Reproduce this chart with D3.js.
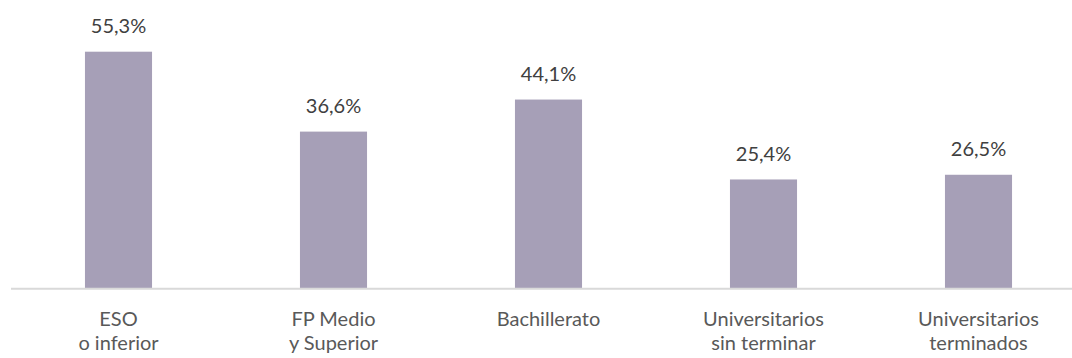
<!DOCTYPE html>
<head>
  <meta charset="utf-8">
  <script src="https://d3js.org/d3.v7.min.js"></script>
  <style>
    body { margin:0; background:#fff; }
    svg { display:block; overflow:hidden; }
    text { font-family: Lato, "Open Sans", sans-serif; font-size:20px; }
  </style>
</head>

<body>
<script>
  // data
  var categories = [
    ["ESO", "o inferior"],
    ["FP Medio", "y Superior"],
    ["Bachillerato"],
    ["Universitarios", "sin terminar"],
    ["Universitarios", "terminados"]
  ];
  var values = [55.3, 36.6, 44.1, 25.4, 26.5];
  var valueLabels = ["55,3%", "36,6%", "44,1%", "25,4%", "26,5%"];

  var width = 1072, height = 358;
  var baseline = 288;

  var svg = d3.select("body").append("svg")
    .attr("width", width)
    .attr("height", height);

  var x = d3.scaleBand()
    .domain(d3.range(values.length))
    .range([11, 1086])
    .paddingInner(0.688)
    .paddingOuter(0.344);

  // 55.3 -> top at ~51.7
  var y = d3.scaleLinear().domain([0, 55.3]).range([baseline, 51.7]);

  svg.selectAll("rect.bar")
    .data(values)
    .enter().append("rect")
    .attr("class", "bar")
    .attr("x", function(d, i) { return x(i); })
    .attr("width", x.bandwidth())
    .attr("y", function(d) { return y(d); })
    .attr("height", function(d) { return baseline - y(d); })
    .attr("fill", "#a69fb7");

  // axis line
  svg.append("line")
    .attr("x1", 11).attr("x2", 1086)
    .attr("y1", baseline + 0.8).attr("y2", baseline + 0.8)
    .attr("stroke", "#d9d9d9")
    .attr("stroke-width", 2);

  // value labels
  svg.selectAll("text.val")
    .data(values)
    .enter().append("text")
    .attr("class", "val")
    .attr("x", function(d, i) { return x(i) + x.bandwidth() / 2; })
    .attr("y", function(d) { return y(d) - 18.5; })
    .attr("text-anchor", "middle")
    .attr("fill", "#404040")
    .text(function(d, i) { return valueLabels[i]; });

  // category labels
  var cat = svg.selectAll("text.cat")
    .data(categories)
    .enter().append("text")
    .attr("class", "cat")
    .attr("text-anchor", "middle")
    .attr("fill", "#595959")
    .attr("transform", function(d, i) {
      return "translate(" + (x(i) + x.bandwidth() / 2) + ",326)";
    });
  cat.selectAll("tspan")
    .data(function(d) { return d; })
    .enter().append("tspan")
    .attr("x", 0)
    .attr("y", function(d, j) { return j * 24; })
    .text(function(d) { return d; });
</script>
</body>
